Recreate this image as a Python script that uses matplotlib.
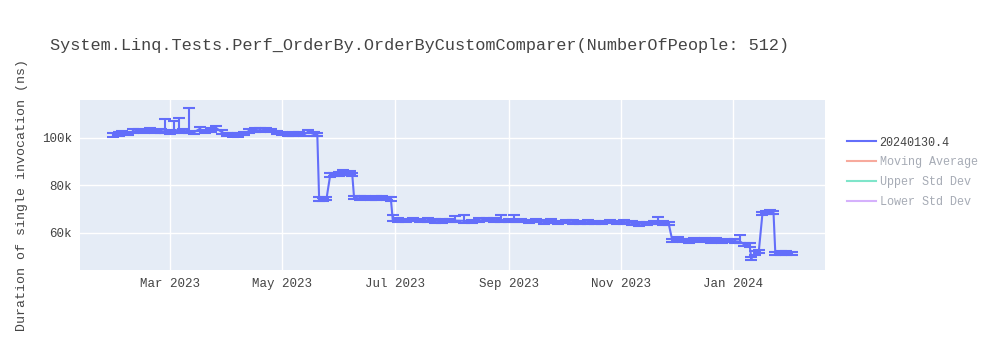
import matplotlib

matplotlib.use("Agg")
import matplotlib.dates as mdates
import matplotlib.pyplot as plt
import pandas as pd
from matplotlib.lines import Line2D
from matplotlib.ticker import FuncFormatter, FixedLocator

TITLE = "System.Linq.Tests.Perf_OrderBy.OrderByCustomComparer(NumberOfPeople: 512)"
Y_LABEL = "Duration of single invocation (ns)"
SERIES_NAME = "20240130.4"
HIDDEN_SERIES = ["Moving Average", "Upper Std Dev", "Lower Std Dev"]

# build dates, mean duration (ns), extra error above the point (ns)
dates = [
	"2023-01-29", "2023-02-01", "2023-02-03", "2023-02-06", "2023-02-09", "2023-02-12",
	"2023-02-15", "2023-02-18", "2023-02-21", "2023-02-24", "2023-02-26", "2023-03-01",
	"2023-03-03", "2023-03-06", "2023-03-08", "2023-03-11", "2023-03-14", "2023-03-17",
	"2023-03-20", "2023-03-23", "2023-03-26", "2023-03-29", "2023-04-01", "2023-04-04",
	"2023-04-07", "2023-04-10", "2023-04-13", "2023-04-16", "2023-04-19", "2023-04-22",
	"2023-04-25", "2023-04-28", "2023-05-01", "2023-05-04", "2023-05-07", "2023-05-10",
	"2023-05-13", "2023-05-15", "2023-05-18", "2023-05-20", "2023-05-21", "2023-05-23",
	"2023-05-25", "2023-05-27", "2023-05-29", "2023-06-01", "2023-06-03", "2023-06-05",
	"2023-06-07", "2023-06-08", "2023-06-09", "2023-06-12", "2023-06-15", "2023-06-18",
	"2023-06-21", "2023-06-24", "2023-06-27", "2023-06-29", "2023-06-30", "2023-07-03",
	"2023-07-07", "2023-07-11", "2023-07-15", "2023-07-19", "2023-07-23", "2023-07-27",
	"2023-07-31", "2023-08-03", "2023-08-08", "2023-08-12", "2023-08-16", "2023-08-20",
	"2023-08-24", "2023-08-28", "2023-09-01", "2023-09-04", "2023-09-08", "2023-09-12",
	"2023-09-16", "2023-09-20", "2023-09-24", "2023-09-28", "2023-10-02", "2023-10-06",
	"2023-10-10", "2023-10-14", "2023-10-18", "2023-10-22", "2023-10-26", "2023-10-30",
	"2023-11-03", "2023-11-07", "2023-11-11", "2023-11-15", "2023-11-19", "2023-11-21",
	"2023-11-24", "2023-11-27", "2023-11-29", "2023-12-02", "2023-12-05", "2023-12-08",
	"2023-12-11", "2023-12-14", "2023-12-17", "2023-12-20", "2023-12-23", "2023-12-26",
	"2023-12-29", "2024-01-02", "2024-01-05", "2024-01-07", "2024-01-10", "2024-01-11",
	"2024-01-13", "2024-01-15", "2024-01-17", "2024-01-19", "2024-01-21", "2024-01-23",
	"2024-01-24", "2024-01-27", "2024-01-30", "2024-02-02",
]
durations = [
	101200, 101600, 102300, 102000, 102800, 103100,
	102600, 103300, 102700, 102900, 102800, 102500,
	103000, 103500, 102800, 103000, 102400, 103800,
	102700, 103300, 104200, 102500, 101500, 101200,
	101300, 101800, 103000, 103400, 103200, 103500,
	103100, 102200, 101800, 101500, 101700, 102000,
	101600, 102600, 101700, 101500, 74300, 74000,
	74400, 84300, 84600, 84800, 85300, 84900,
	85100, 84700, 74800, 74600, 74900, 74500,
	74700, 74800, 74400, 74300, 65600, 65500,
	65300, 65600, 65200, 65400, 65100, 65000,
	65300, 65200, 65100, 64900, 65300, 65600,
	65400, 65500, 65300, 65400, 65200, 64800,
	65300, 64600, 64900, 64400, 64700, 64500,
	64300, 64600, 64400, 64500, 64700, 64400,
	64600, 64200, 63800, 64100, 64300, 64500,
	64200, 64000, 56800, 57300, 56900, 56600,
	57200, 56700, 57100, 56600, 56900, 56400,
	56800, 56500, 56300, 55200, 54800, 49200,
	51500, 52200, 68200, 68600, 68800, 68700,
	51300, 51600, 51500, 51400,
]
err_upper = [
	700, 800, 800, 700, 900, 800,
	700, 900, 700, 800, 5200, 800,
	4200, 5000, 800, 9500, 700, 900,
	800, 700, 900, 700, 700, 700,
	700, 800, 800, 700, 800, 700,
	700, 700, 700, 700, 800, 700,
	700, 900, 700, 700, 800, 700,
	700, 800, 700, 800, 1200, 700,
	800, 700, 700, 800, 700, 700,
	800, 700, 700, 700, 1800, 800,
	700, 800, 700, 700, 800, 700,
	700, 2000, 2400, 700, 800, 700,
	700, 1900, 700, 2000, 700, 800,
	700, 700, 800, 700, 700, 800,
	700, 700, 800, 700, 700, 800,
	700, 700, 800, 700, 700, 2400,
	700, 800, 700, 1100, 700, 800,
	700, 800, 700, 700, 800, 700,
	700, 800, 2800, 700, 800, 700,
	800, 800, 700, 700, 800, 700,
	700, 800, 700, 700,
]
err_lower = [700] * len(durations)

BLUE = "#636efa"
HIDDEN_COLORS = ["#f7aa9d", "#7fe5ca", "#d5b1fc"]
TEXT = "#444444"


def main() -> None:
	plt.rcParams["font.family"] = ["Liberation Mono", "DejaVu Sans Mono"]
	frame = pd.DataFrame({
		"date": pd.to_datetime(dates),
		"value": durations,
		"lo": err_lower,
		"hi": err_upper,
	})

	fig = plt.figure(figsize=(10, 3.5), dpi=100)
	ax = fig.add_axes([0.08, 0.2286, 0.745, 0.4857])
	ax.set_facecolor("#E5ECF6")
	for spine in ax.spines.values():
		spine.set_visible(False)

	ax.errorbar(
		frame["date"], frame["value"], yerr=[frame["lo"], frame["hi"]],
		color=BLUE, lw=1.5, elinewidth=1.5, capsize=4, capthick=1.5, zorder=3,
	)

	ax.set_xlim(pd.Timestamp("2023-01-11"), pd.Timestamp("2024-02-20"))
	ax.set_ylim(44400, 116000)
	ticks = pd.to_datetime(["2023-03-01", "2023-05-01", "2023-07-01", "2023-09-01", "2023-11-01", "2024-01-01"])
	ax.xaxis.set_major_locator(FixedLocator(mdates.date2num(ticks)))
	ax.xaxis.set_major_formatter(mdates.DateFormatter("%b %Y"))
	ax.yaxis.set_major_locator(FixedLocator([60000, 80000, 100000]))
	ax.yaxis.set_major_formatter(FuncFormatter(lambda v, _: f"{int(v / 1000)}k"))
	ax.tick_params(length=0, labelsize=9, colors=TEXT, pad=6)
	ax.grid(True, color="white", lw=1)
	ax.set_axisbelow(True)

	fig.text(0.05, 0.87, TITLE, fontsize=12.2, color=TEXT, va="center", ha="left")
	fig.text(0.022, 0.443, Y_LABEL, fontsize=9.5, color=TEXT, rotation=90, va="center", ha="center")

	handles = [Line2D([], [], color=BLUE, lw=1.5)]
	handles += [Line2D([], [], color=c, lw=1.5) for c in HIDDEN_COLORS]
	labels = [SERIES_NAME] + HIDDEN_SERIES
	fig.legend(
		handles, labels, loc="upper left", bbox_to_anchor=(0.836, 0.64),
		frameon=False, fontsize=8.5, handlelength=2.5, handletextpad=0.3,
		labelspacing=0.66, labelcolor=[TEXT, "#a6abb5", "#a6abb5", "#a6abb5"],
	)

	fig.savefig("out.png", dpi=100)
	plt.close(fig)


if __name__ == "__main__":
	main()
